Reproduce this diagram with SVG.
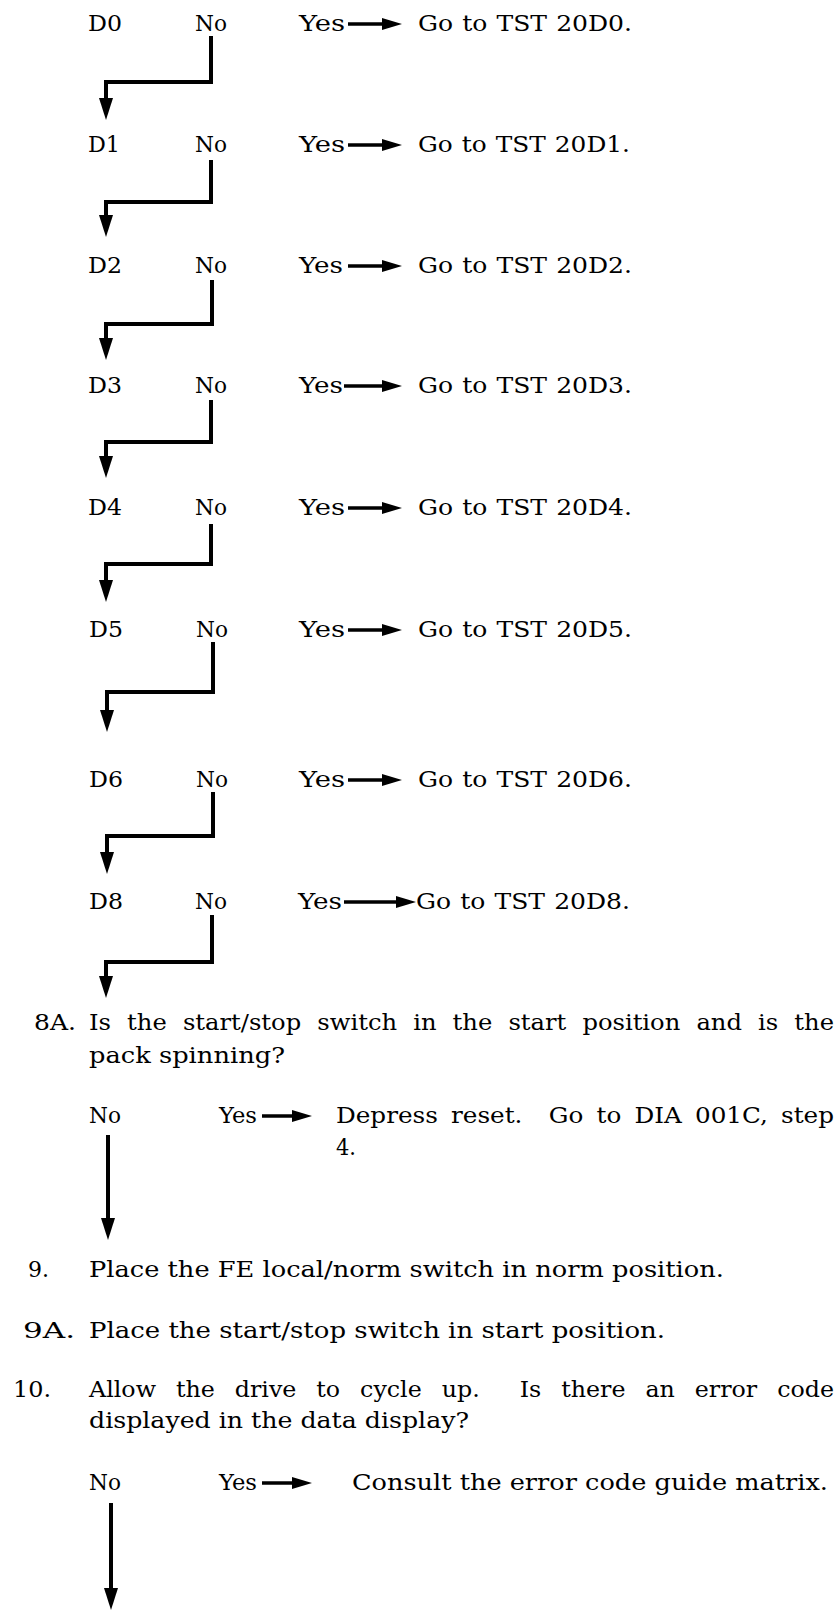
<svg xmlns="http://www.w3.org/2000/svg" width="837" height="1610" viewBox="0 0 837 1610">
<style>
text{font-family:"DejaVu Serif","Liberation Serif",serif;fill:#000}
.u{font-size:22px}
.l{font-size:23px}
.c{fill:none;stroke:#000;stroke-width:4;stroke-linejoin:miter}
.a{stroke:#000;stroke-width:3.5}
.h{fill:#000}
</style>
<defs>
<marker id="dn" viewBox="0 0 22 14" refX="1" refY="7" markerWidth="22" markerHeight="14" markerUnits="userSpaceOnUse" orient="auto">
<path d="M0,0 L22,7 L0,14 Z" fill="#000"/>
</marker>
</defs>
<rect width="837" height="1610" fill="#fff"/>

<g id="rowD0">
<text class="u" x="88" y="31" textLength="34" lengthAdjust="spacingAndGlyphs">D0</text>
<text class="u" x="195" y="31" textLength="32" lengthAdjust="spacingAndGlyphs">No</text>
<text class="u" x="299" y="31" textLength="46" lengthAdjust="spacingAndGlyphs">Yes</text>
<text class="u" x="418" y="31" textLength="214" lengthAdjust="spacingAndGlyphs" word-spacing="1">Go to TST 20D0.</text>
</g>
<g id="rowD1">
<text class="u" x="88" y="152" textLength="32" lengthAdjust="spacingAndGlyphs">D1</text>
<text class="u" x="195" y="152" textLength="32" lengthAdjust="spacingAndGlyphs">No</text>
<text class="u" x="299" y="152" textLength="46" lengthAdjust="spacingAndGlyphs">Yes</text>
<text class="u" x="418" y="152" textLength="212" lengthAdjust="spacingAndGlyphs" word-spacing="1">Go to TST 20D1.</text>
</g>
<g id="rowD2">
<text class="u" x="88" y="273" textLength="34" lengthAdjust="spacingAndGlyphs">D2</text>
<text class="u" x="195" y="273" textLength="32" lengthAdjust="spacingAndGlyphs">No</text>
<text class="u" x="299" y="273" textLength="44" lengthAdjust="spacingAndGlyphs">Yes</text>
<text class="u" x="418" y="273" textLength="214" lengthAdjust="spacingAndGlyphs" word-spacing="1">Go to TST 20D2.</text>
</g>
<g id="rowD3">
<text class="u" x="88" y="393" textLength="34" lengthAdjust="spacingAndGlyphs">D3</text>
<text class="u" x="195" y="393" textLength="32" lengthAdjust="spacingAndGlyphs">No</text>
<text class="u" x="299" y="393" textLength="44" lengthAdjust="spacingAndGlyphs">Yes</text>
<text class="u" x="418" y="393" textLength="214" lengthAdjust="spacingAndGlyphs" word-spacing="1">Go to TST 20D3.</text>
</g>
<g id="rowD4">
<text class="u" x="88" y="515" textLength="34" lengthAdjust="spacingAndGlyphs">D4</text>
<text class="u" x="195" y="515" textLength="32" lengthAdjust="spacingAndGlyphs">No</text>
<text class="u" x="299" y="515" textLength="46" lengthAdjust="spacingAndGlyphs">Yes</text>
<text class="u" x="418" y="515" textLength="214" lengthAdjust="spacingAndGlyphs" word-spacing="1">Go to TST 20D4.</text>
</g>
<g id="rowD5">
<text class="u" x="89" y="637" textLength="34" lengthAdjust="spacingAndGlyphs">D5</text>
<text class="u" x="196" y="637" textLength="32" lengthAdjust="spacingAndGlyphs">No</text>
<text class="u" x="299" y="637" textLength="46" lengthAdjust="spacingAndGlyphs">Yes</text>
<text class="u" x="418" y="637" textLength="214" lengthAdjust="spacingAndGlyphs" word-spacing="1">Go to TST 20D5.</text>
</g>
<g id="rowD6">
<text class="u" x="89" y="787" textLength="34" lengthAdjust="spacingAndGlyphs">D6</text>
<text class="u" x="196" y="787" textLength="32" lengthAdjust="spacingAndGlyphs">No</text>
<text class="u" x="299" y="787" textLength="46" lengthAdjust="spacingAndGlyphs">Yes</text>
<text class="u" x="418" y="787" textLength="214" lengthAdjust="spacingAndGlyphs" word-spacing="1">Go to TST 20D6.</text>
</g>
<g id="rowD8">
<text class="u" x="89" y="909" textLength="34" lengthAdjust="spacingAndGlyphs">D8</text>
<text class="u" x="195" y="909" textLength="32" lengthAdjust="spacingAndGlyphs">No</text>
<text class="u" x="298" y="909" textLength="44" lengthAdjust="spacingAndGlyphs">Yes</text>
<text class="u" x="416" y="909" textLength="214" lengthAdjust="spacingAndGlyphs" word-spacing="1">Go to TST 20D8.</text>
</g>

<g id="step8A">
<text class="l" x="34" y="1030" textLength="42" lengthAdjust="spacingAndGlyphs">8A.</text>
<text class="l" x="89" y="1030" textLength="745" lengthAdjust="spacingAndGlyphs" word-spacing="8">Is the start/stop switch in the start position and is the</text>
<text class="l" x="89" y="1063" textLength="196" lengthAdjust="spacingAndGlyphs">pack spinning?</text>
<text class="l" x="89" y="1123" textLength="32" lengthAdjust="spacingAndGlyphs">No</text>
<text class="l" x="219" y="1123" textLength="38" lengthAdjust="spacingAndGlyphs">Yes</text>
<text class="l" x="336" y="1123" textLength="498" lengthAdjust="spacingAndGlyphs" word-spacing="5" xml:space="preserve">Depress reset.  Go to DIA 001C, step</text>
<text class="l" x="336" y="1155" textLength="20" lengthAdjust="spacingAndGlyphs">4.</text>
</g>

<g id="step9">
<text class="l" x="28" y="1277" textLength="21" lengthAdjust="spacingAndGlyphs">9.</text>
<text class="l" x="89" y="1277" textLength="635" lengthAdjust="spacingAndGlyphs">Place the FE local/norm switch in norm position.</text>
</g>
<g id="step9A">
<text class="l" x="23" y="1338" textLength="52" lengthAdjust="spacingAndGlyphs">9A.</text>
<text class="l" x="89" y="1338" textLength="576" lengthAdjust="spacingAndGlyphs">Place the start/stop switch in start position.</text>
</g>
<g id="step10">
<text class="l" x="13" y="1397" textLength="38" lengthAdjust="spacingAndGlyphs">10.</text>
<text class="l" x="89" y="1397" textLength="745" lengthAdjust="spacingAndGlyphs" word-spacing="12" xml:space="preserve">Allow the drive to cycle up.  Is there an error code</text>
<text class="l" x="89" y="1428" textLength="380" lengthAdjust="spacingAndGlyphs">displayed in the data display?</text>
<text class="l" x="89" y="1490" textLength="32" lengthAdjust="spacingAndGlyphs">No</text>
<text class="l" x="219" y="1490" textLength="38" lengthAdjust="spacingAndGlyphs">Yes</text>
<text class="l" x="352" y="1490" textLength="476" lengthAdjust="spacingAndGlyphs">Consult the error code guide matrix.</text>
</g>

<g id="connectors">
<path class="c" marker-end="url(#dn)" d="M211,36 V82 H106 V99"/>
<path class="c" marker-end="url(#dn)" d="M211,160 V202 H106 V216"/>
<path class="c" marker-end="url(#dn)" d="M212,280 V324 H106 V339"/>
<path class="c" marker-end="url(#dn)" d="M211,400 V442 H106 V457"/>
<path class="c" marker-end="url(#dn)" d="M211,524 V564 H106 V581"/>
<path class="c" marker-end="url(#dn)" d="M213,642 V692 H107 V711"/>
<path class="c" marker-end="url(#dn)" d="M213,792 V836 H107 V853"/>
<path class="c" marker-end="url(#dn)" d="M212,915 V962 H106 V977"/>
<path class="c" marker-end="url(#dn)" d="M108,1135 V1219"/>
<path class="c" marker-end="url(#dn)" d="M111,1503 V1589"/>

<g id="yesArrows">
<line class="a" x1="348" y1="24" x2="384" y2="24"/><path class="h" d="M382,18 L402,24 L382,30 Z"/>
<line class="a" x1="348" y1="145" x2="384" y2="145"/><path class="h" d="M382,139 L402,145 L382,151 Z"/>
<line class="a" x1="348" y1="266" x2="384" y2="266"/><path class="h" d="M382,260 L402,266 L382,272 Z"/>
<line class="a" x1="344" y1="386" x2="384" y2="386"/><path class="h" d="M382,380 L402,386 L382,392 Z"/>
<line class="a" x1="348" y1="508" x2="384" y2="508"/><path class="h" d="M382,502 L402,508 L382,514 Z"/>
<line class="a" x1="348" y1="630" x2="384" y2="630"/><path class="h" d="M382,624 L402,630 L382,636 Z"/>
<line class="a" x1="348" y1="780" x2="384" y2="780"/><path class="h" d="M382,774 L402,780 L382,786 Z"/>
<line class="a" x1="344" y1="902" x2="398" y2="902"/><path class="h" d="M396,896 L416,902 L396,908 Z"/>
<line class="a" x1="262" y1="1116" x2="294" y2="1116"/><path class="h" d="M292,1110 L312,1116 L292,1122 Z"/>
<line class="a" x1="262" y1="1483" x2="294" y2="1483"/><path class="h" d="M292,1477 L312,1483 L292,1489 Z"/>
</g>
</g>
</svg>
